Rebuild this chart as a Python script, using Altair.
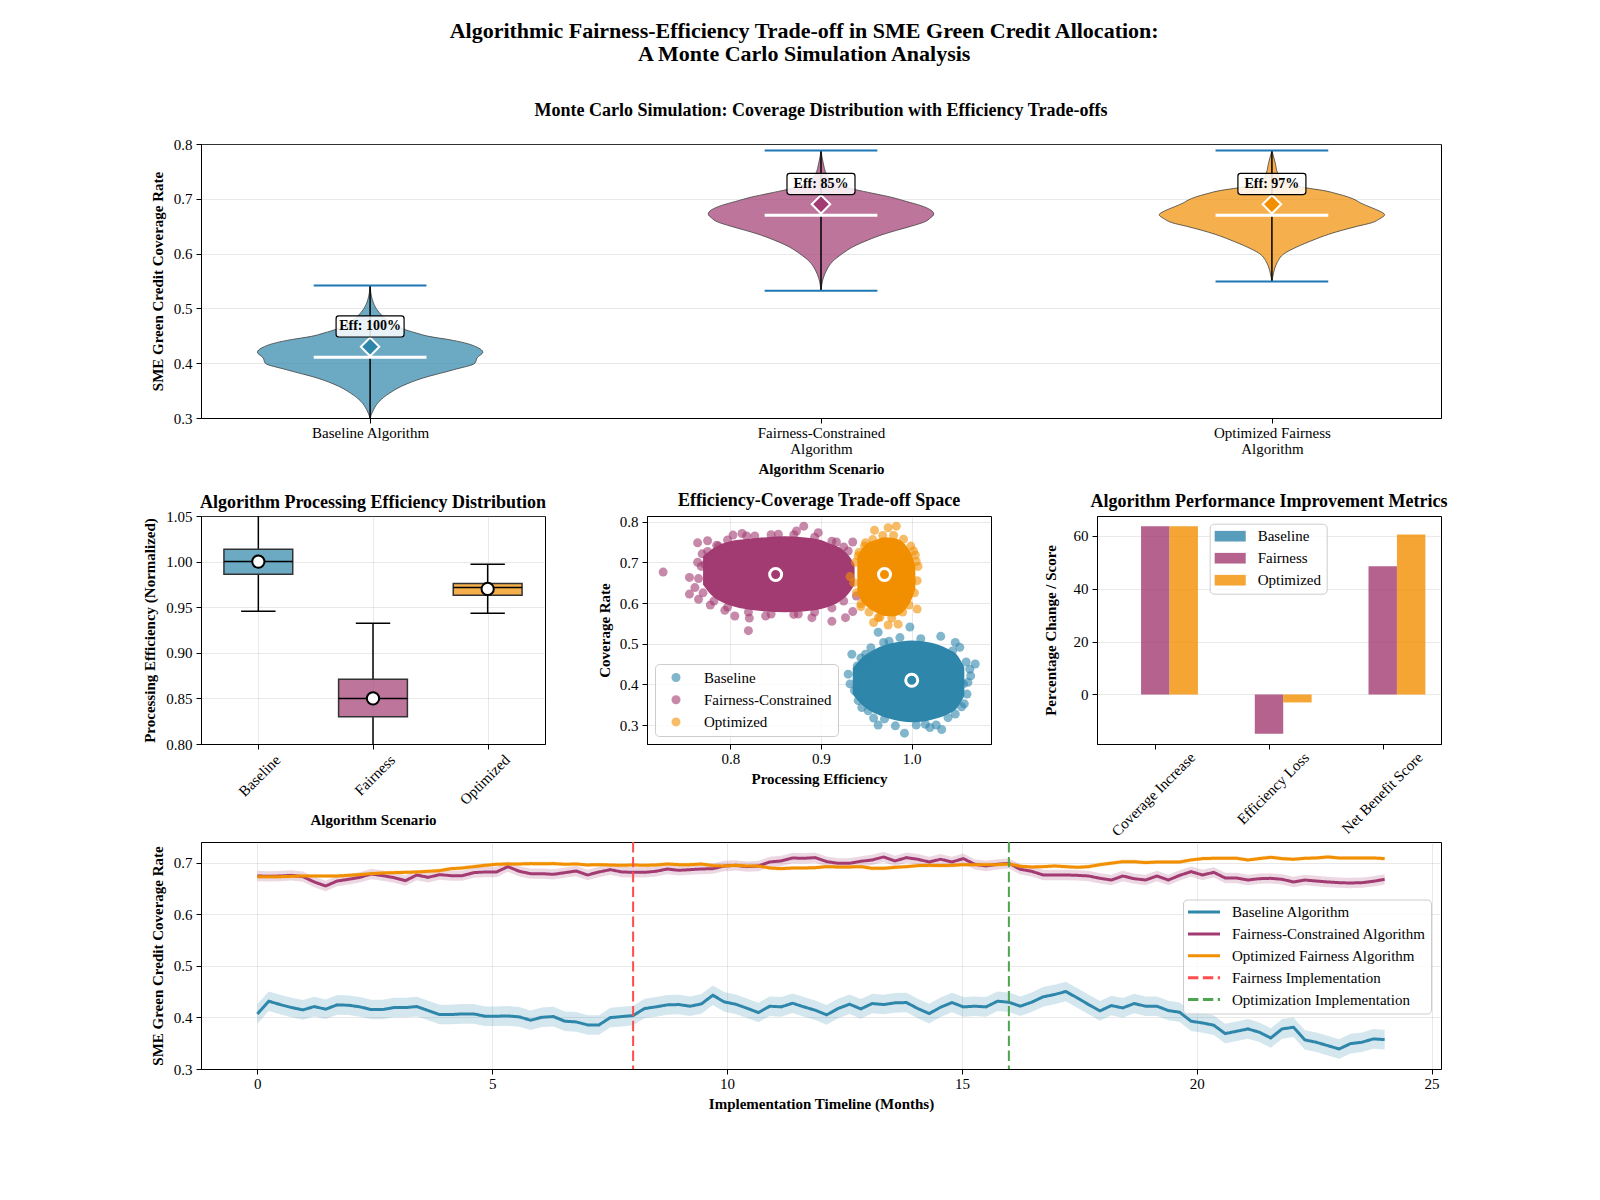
import json
import altair as alt
import pandas as pd

FONT = "Liberation Serif"
BLUE, PURPLE, ORANGE = "#2E86AB", "#A23B72", "#F18F01"
PALETTE = [BLUE, PURPLE, ORANGE]
EXTREMA_BLUE = "#1f77b4"
FAIR_RED = "#ff4d4d"
OPT_GREEN = "#4da64d"
LEGEND_BOX = dict(fillColor="rgba(255,255,255,0.8)", strokeColor="#cccccc", cornerRadius=4, labelLimit=400)

# ====================== Panel 1: violins ======================
scenario_names = ["Baseline Algorithm", "Fairness-Constrained Algorithm", "Optimized Fairness Algorithm"]
scenario_tick_lines = [["Baseline Algorithm"], ["Fairness-Constrained", "Algorithm"], ["Optimized Fairness", "Algorithm"]]
scenario_positions = [1, 2, 3]

baseline_levels = [0.300, 0.315, 0.330, 0.345, 0.358, 0.373, 0.388, 0.400, 0.410, 0.420, 0.428,
                   0.437, 0.443, 0.449, 0.455, 0.462, 0.472, 0.486, 0.498, 0.516, 0.542]
baseline_density = [0.00, 0.03, 0.08, 0.17, 0.28, 0.47, 0.74, 0.93, 0.95, 1.00, 0.96,
                    0.84, 0.70, 0.52, 0.41, 0.30, 0.20, 0.11, 0.06, 0.02, 0.00]
fairness_levels = [0.532, 0.555, 0.570, 0.585, 0.600, 0.612, 0.625, 0.635, 0.643, 0.650, 0.658, 0.665,
                   0.672, 0.680, 0.688, 0.695, 0.703, 0.710, 0.717, 0.725, 0.733, 0.745, 0.765, 0.788]
fairness_density = [0.00, 0.02, 0.05, 0.10, 0.19, 0.28, 0.42, 0.55, 0.68, 0.80, 0.92, 0.97,
                    1.00, 0.97, 0.88, 0.76, 0.62, 0.46, 0.30, 0.17, 0.10, 0.05, 0.02, 0.00]
optimized_levels = [0.549, 0.565, 0.583, 0.600, 0.612, 0.625, 0.635, 0.643, 0.650, 0.656, 0.664, 0.671,
                    0.678, 0.685, 0.692, 0.698, 0.703, 0.709, 0.715, 0.720, 0.727, 0.735, 0.747, 0.765, 0.788]
optimized_density = [0.00, 0.015, 0.045, 0.11, 0.22, 0.37, 0.50, 0.63, 0.76, 0.88, 0.96, 1.00,
                     0.95, 0.87, 0.79, 0.74, 0.68, 0.58, 0.46, 0.30, 0.15, 0.08, 0.05, 0.03, 0.00]

coverage_min = [0.296, 0.532, 0.549]
coverage_max = [0.542, 0.788, 0.788]
coverage_median = [0.411, 0.670, 0.670]
coverage_mean = [0.430, 0.690, 0.690]
efficiency_labels = ["Eff: 100%", "Eff: 85%", "Eff: 97%"]

# ====================== Panel 2: efficiency boxes ======================
box_names = ["Baseline", "Fairness", "Optimized"]
box_positions = [1, 2, 3]
box_q1 = [0.986, 0.830, 0.963]
box_q3 = [1.0135, 0.871, 0.976]
box_median = [1.000, 0.850, 0.9715]
box_whisker_low = [0.9455, 0.768, 0.9435]
box_whisker_high = [1.054, 0.9325, 0.997]
box_mean = [1.000, 0.850, 0.970]

# ====================== Panel 3: trade-off scatter ======================
scatter_groups = ["Baseline", "Fairness-Constrained", "Optimized"]
baseline_pts_eff = [0.963, 0.969, 0.998, 0.987, 1.032, 1.048, 1.053, 1.070, 1.064, 1.065,
                    1.058, 1.048, 1.033, 0.992, 0.963, 1.020, 0.934, 0.930, 0.932, 0.941,
                    0.945, 0.949, 1.057, 1.061, 0.982, 1.015,
                    0.940, 0.937, 0.952, 0.970, 1.005, 1.040, 1.055, 1.062, 1.060, 1.045,
                    1.010, 0.975, 0.955, 0.944, 1.027, 0.958]
baseline_pts_cov = [0.528, 0.503, 0.541, 0.515, 0.518, 0.503, 0.491, 0.450, 0.437, 0.421,
                    0.352, 0.327, 0.289, 0.280, 0.300, 0.294, 0.474, 0.425, 0.401, 0.360,
                    0.343, 0.474, 0.401, 0.376, 0.298, 0.302,
                    0.445, 0.385, 0.335, 0.315, 0.300, 0.318, 0.345, 0.405, 0.455, 0.482,
                    0.512, 0.506, 0.490, 0.465, 0.300, 0.317]
fairness_pts_eff = [0.726, 0.764, 0.775, 0.755, 0.755, 0.761, 0.765, 0.778, 0.794, 0.805,
                    0.820, 0.821, 0.803, 0.813, 0.827, 0.881, 0.873, 0.897, 0.912, 0.927,
                    0.935, 0.917, 0.935, 0.890, 0.764, 0.769, 0.939, 0.853, 0.787, 0.906,
                    0.772, 0.875, 0.839,
                    0.775, 0.785, 0.797, 0.818, 0.845, 0.870, 0.893, 0.912, 0.925, 0.930,
                    0.925, 0.912, 0.893, 0.870, 0.845, 0.820, 0.797, 0.782, 0.770, 0.765, 0.768]
fairness_pts_cov = [0.676, 0.748, 0.753, 0.663, 0.622, 0.638, 0.609, 0.595, 0.582, 0.568,
                    0.532, 0.563, 0.767, 0.771, 0.765, 0.789, 0.777, 0.773, 0.555, 0.564,
                    0.579, 0.750, 0.750, 0.564, 0.700, 0.721, 0.617, 0.769, 0.740, 0.736,
                    0.695, 0.573, 0.568,
                    0.727, 0.742, 0.755, 0.765, 0.768, 0.768, 0.762, 0.752, 0.738, 0.728,
                    0.605, 0.588, 0.578, 0.572, 0.573, 0.578, 0.590, 0.605, 0.625, 0.660, 0.690]
optimized_pts_eff = [0.974, 0.983, 0.959, 1.002, 1.005, 1.006, 0.958, 0.974, 0.985, 0.944,
                     0.932, 0.941, 0.996, 0.949, 0.963, 1.000,
                     0.938, 0.942, 0.948, 0.957, 0.968, 0.980, 0.991, 0.999, 1.004, 1.007,
                     1.006, 1.003, 0.997, 0.990, 0.978, 0.965, 0.953, 0.944, 0.939, 0.936]
optimized_pts_cov = [0.785, 0.789, 0.779, 0.728, 0.702, 0.585, 0.552, 0.546, 0.548, 0.591,
                     0.665, 0.716, 0.630, 0.748, 0.564, 0.654,
                     0.700, 0.725, 0.740, 0.756, 0.766, 0.766, 0.757, 0.740, 0.718, 0.690,
                     0.655, 0.625, 0.595, 0.578, 0.563, 0.565, 0.578, 0.598, 0.625, 0.650]
# dense cores of each cloud: vertical extent of the saturated region at each efficiency
baseline_blob_eff = [0.935, 0.945, 0.960, 0.980, 1.000, 1.020, 1.040, 1.050, 1.058]
baseline_blob_low = [0.375, 0.350, 0.328, 0.313, 0.307, 0.312, 0.327, 0.342, 0.372]
baseline_blob_high = [0.440, 0.465, 0.487, 0.502, 0.508, 0.503, 0.487, 0.472, 0.442]
fairness_blob_eff = [0.770, 0.780, 0.790, 0.800, 0.820, 0.840, 0.860, 0.880, 0.900, 0.910, 0.920, 0.930, 0.937]
fairness_blob_low = [0.645, 0.618, 0.603, 0.594, 0.584, 0.579, 0.577, 0.579, 0.585, 0.592, 0.603, 0.622, 0.645]
fairness_blob_high = [0.715, 0.733, 0.745, 0.752, 0.758, 0.762, 0.764, 0.762, 0.755, 0.746, 0.737, 0.718, 0.695]
optimized_blob_eff = [0.940, 0.945, 0.950, 0.960, 0.970, 0.980, 0.990, 0.995, 1.000, 1.004]
optimized_blob_low = [0.625, 0.603, 0.592, 0.577, 0.568, 0.567, 0.577, 0.590, 0.610, 0.635]
optimized_blob_high = [0.715, 0.733, 0.745, 0.755, 0.762, 0.760, 0.750, 0.737, 0.718, 0.690]
center_eff = [1.00, 0.85, 0.97]
center_cov = [0.41, 0.67, 0.67]

# ====================== Panel 4: improvement metrics ======================
metric_names = ["Coverage Increase", "Efficiency Loss", "Net Benefit Score"]
metric_positions = [0, 1, 2]
bar_groups = ["Baseline", "Fairness", "Optimized"]
baseline_metrics = [0.0, 0.0, 0.0]
fairness_metrics = [63.5, -14.8, 48.4]
optimized_metrics = [63.5, -3.0, 60.4]

# ====================== Panel 5: timeline ======================
months = [round(i * 24 / 99, 4) for i in range(100)]
baseline_ts = [0.4068, 0.4314, 0.4249, 0.4191, 0.4146, 0.4210, 0.4159, 0.4243, 0.4236, 0.4204,
               0.4152, 0.4152, 0.4191, 0.4191, 0.4210, 0.4133, 0.4055, 0.4055, 0.4068, 0.4068,
               0.4023, 0.4023, 0.4029, 0.4010, 0.3945, 0.4003, 0.4016, 0.3926, 0.3913, 0.3854,
               0.3854, 0.3997, 0.4016, 0.4036, 0.4172, 0.4204, 0.4243, 0.4249, 0.4217, 0.4262,
               0.4430, 0.4301, 0.4256, 0.4178, 0.4094, 0.4217, 0.4204, 0.4275, 0.4204, 0.4139,
               0.4049, 0.4172, 0.4256, 0.4165, 0.4269, 0.4249, 0.4282, 0.4288, 0.4172, 0.4074,
               0.4197, 0.4288, 0.4204, 0.4217, 0.4204, 0.4314, 0.4294, 0.4217, 0.4294, 0.4398,
               0.4443, 0.4502, 0.4379, 0.4249, 0.4126, 0.4230, 0.4184, 0.4269, 0.4217, 0.4217,
               0.4133, 0.4100, 0.3926, 0.3893, 0.3848, 0.3686, 0.3731, 0.3777, 0.3712, 0.3602,
               0.3777, 0.3809, 0.3563, 0.3518, 0.3453, 0.3388, 0.3492, 0.3518, 0.3583, 0.3570]
fairness_ts = [0.6741, 0.6735, 0.6740, 0.6754, 0.6728, 0.6625, 0.6547, 0.6644, 0.6676, 0.6715,
               0.6780, 0.6748, 0.6709, 0.6650, 0.6760, 0.6715, 0.6767, 0.6748, 0.6748, 0.6806,
               0.6819, 0.6819, 0.6922, 0.6832, 0.6786, 0.6786, 0.6773, 0.6806, 0.6838, 0.6760,
               0.6819, 0.6864, 0.6819, 0.6812, 0.6812, 0.6832, 0.6877, 0.6851, 0.6864, 0.6877,
               0.6883, 0.6935, 0.6948, 0.6922, 0.6935, 0.7013, 0.7032, 0.7090, 0.7084, 0.7097,
               0.7020, 0.6987, 0.6987, 0.7026, 0.7052, 0.7110, 0.7032, 0.7097, 0.7065, 0.7013,
               0.7065, 0.7013, 0.7078, 0.6968, 0.6935, 0.6968, 0.6987, 0.6871, 0.6832, 0.6761,
               0.6761, 0.6761, 0.6754, 0.6741, 0.6696, 0.6663, 0.6741, 0.6689, 0.6663, 0.6741,
               0.6663, 0.6754, 0.6825, 0.6761, 0.6812, 0.6702, 0.6702, 0.6663, 0.6689, 0.6696,
               0.6676, 0.6625, 0.6663, 0.6644, 0.6625, 0.6612, 0.6605, 0.6612, 0.6638, 0.6676]
optimized_ts = [0.6728, 0.6728, 0.6728, 0.6735, 0.6741, 0.6741, 0.6741, 0.6741, 0.6754, 0.6767,
                0.6786, 0.6799, 0.6806, 0.6812, 0.6819, 0.6832, 0.6845, 0.6883, 0.6896, 0.6922,
                0.6948, 0.6968, 0.6974, 0.6974, 0.6981, 0.6980, 0.6981, 0.6968, 0.6974, 0.6955,
                0.6961, 0.6955, 0.6948, 0.6955, 0.6948, 0.6955, 0.6974, 0.6961, 0.6961, 0.6974,
                0.6942, 0.6935, 0.6948, 0.6935, 0.6935, 0.6896, 0.6883, 0.6896, 0.6896, 0.6903,
                0.6922, 0.6916, 0.6916, 0.6922, 0.6890, 0.6890, 0.6909, 0.6922, 0.6942, 0.6948,
                0.6942, 0.6948, 0.6961, 0.6961, 0.6961, 0.6961, 0.6974, 0.6929, 0.6916, 0.6922,
                0.6935, 0.6922, 0.6909, 0.6922, 0.6961, 0.6990, 0.7019, 0.7019, 0.7000, 0.7013,
                0.7013, 0.7013, 0.7052, 0.7078, 0.7084, 0.7084, 0.7084, 0.7052, 0.7078, 0.7104,
                0.7078, 0.7065, 0.7084, 0.7091, 0.7110, 0.7091, 0.7091, 0.7091, 0.7091, 0.7078]
band_half_width = [0.019, 0.010, 0.004]
line_series = ["Baseline Algorithm", "Fairness-Constrained Algorithm", "Optimized Fairness Algorithm"]
event_series = ["Fairness Implementation", "Optimization Implementation"]
event_months = [8, 16]

# ====================== build tables ======================
vrows = []
for name, pos, levels, dens in zip(scenario_names, scenario_positions,
                                   [baseline_levels, fairness_levels, optimized_levels],
                                   [baseline_density, fairness_density, optimized_density]):
    for c, d in zip(levels, dens):
        vrows.append({"scenario": name, "pos": pos, "cov": c, "dens": d})
violin_df = pd.DataFrame(vrows)
vstats_df = pd.DataFrame({"scenario": scenario_names, "pos": scenario_positions, "vmin": coverage_min,
                          "vmax": coverage_max, "med": coverage_median, "mean": coverage_mean,
                          "label": efficiency_labels})

box_df = pd.DataFrame({"alg": box_names, "pos": box_positions, "q1": box_q1, "q3": box_q3,
                       "med": box_median, "wlo": box_whisker_low, "whi": box_whisker_high,
                       "mean": box_mean})

pts_frames, blob_frames = [], []
for g, pe, pc, be, bl, bh in zip(scatter_groups,
                                 [baseline_pts_eff, fairness_pts_eff, optimized_pts_eff],
                                 [baseline_pts_cov, fairness_pts_cov, optimized_pts_cov],
                                 [baseline_blob_eff, fairness_blob_eff, optimized_blob_eff],
                                 [baseline_blob_low, fairness_blob_low, optimized_blob_low],
                                 [baseline_blob_high, fairness_blob_high, optimized_blob_high]):
    pts_frames.append(pd.DataFrame({"group": g, "eff": pe, "cov": pc}))
    blob_frames.append(pd.DataFrame({"group": g, "eff": be, "lo": bl, "hi": bh}))
center_df = pd.DataFrame({"group": scatter_groups, "eff": center_eff, "cov": center_cov})

bar_rows = []
for gi, (g, vals) in enumerate(zip(bar_groups, [baseline_metrics, fairness_metrics, optimized_metrics])):
    for m, mp, v in zip(metric_names, metric_positions, vals):
        bar_rows.append({"metric": m, "mpos": mp, "group": g, "gidx": gi, "val": v})
bar_df = pd.DataFrame(bar_rows)

ts_rows = []
for s, vals, hw in zip(line_series, [baseline_ts, fairness_ts, optimized_ts], band_half_width):
    for m, v in zip(months, vals):
        ts_rows.append({"month": m, "series": s, "val": v, "lo": v - hw, "hi": v + hw})
ts_df = pd.DataFrame(ts_rows)
event_df = pd.DataFrame({"month": event_months, "series": event_series})

# ====================== Panel 1 chart ======================
VIOLIN_HALF = 0.25
LINE_HALF = 0.125
ROUNDED_BOX = ("M-0.92,-0.31 L0.92,-0.31 Q1,-0.31 1,-0.23 L1,0.23 Q1,0.31 0.92,0.31 "
               "L-0.92,0.31 Q-1,0.31 -1,0.23 L-1,-0.23 Q-1,-0.31 -0.92,-0.31 Z")

v_xscale = alt.Scale(domain=[0.625, 3.375], nice=False, zero=False)
v_yscale = alt.Scale(domain=[0.3, 0.8], nice=False, zero=False)
v_xaxis = alt.Axis(values=scenario_positions, labelExpr=json.dumps(scenario_tick_lines) + "[datum.value - 1]",
                   grid=False, labelLineHeight=16, labelFlush=False, labelOverlap=False, labelPadding=2,
                   title="Algorithm Scenario")
v_yaxis = alt.Axis(values=[0.3, 0.4, 0.5, 0.6, 0.7, 0.8], format=".1f", grid=True, labelFlush=False,
                   title="SME Green Credit Coverage Rate", titlePadding=8)
v_fill = alt.Fill("scenario:N", scale=alt.Scale(domain=scenario_names, range=PALETTE), legend=None)


def vx(f):
    return alt.X(f, scale=v_xscale, axis=v_xaxis, stack=None)


def vy(f):
    return alt.Y(f, scale=v_yscale, axis=v_yaxis, stack=None)


v_body = alt.Chart(violin_df).transform_calculate(
    xlo=f"datum.pos - {VIOLIN_HALF} * datum.dens", xhi=f"datum.pos + {VIOLIN_HALF} * datum.dens"
).mark_area(orient="horizontal", interpolate="monotone", fillOpacity=0.7, stroke="#404040",
            strokeWidth=0.8, clip=True).encode(
    y=vy("cov:Q"), x=vx("xlo:Q"), x2="xhi:Q", fill=v_fill
)
vb = alt.Chart(vstats_df).transform_calculate(
    l=f"datum.pos - {LINE_HALF}", r=f"datum.pos + {LINE_HALF}", ly="datum.mean + 0.037"
)
v_center = vb.mark_rule(color="black", strokeWidth=1.5, clip=True).encode(x=vx("pos:Q"), y=vy("vmin:Q"), y2="vmax:Q")
v_ext = vb.transform_fold(["vmin", "vmax"], as_=["stat", "val"]).mark_rule(
    color=EXTREMA_BLUE, strokeWidth=2, clip=True).encode(x=vx("l:Q"), x2="r:Q", y=vy("val:Q"))
v_med = vb.mark_rule(color="white", strokeWidth=3).encode(x=vx("l:Q"), x2="r:Q", y=vy("med:Q"))
v_mean = vb.mark_point(shape="diamond", filled=True, size=340, stroke="white", strokeWidth=2, opacity=1).encode(
    x=vx("pos:Q"), y=vy("mean:Q"), fill=v_fill)
v_lbox = vb.mark_point(shape=ROUNDED_BOX, size=4624, filled=True, fill="white", fillOpacity=0.85,
                       stroke="black", strokeWidth=1.2, strokeOpacity=1, opacity=1).encode(x=vx("pos:Q"), y=vy("ly:Q"))
v_ltxt = vb.mark_text(font=FONT, fontSize=14, fontWeight="bold", color="black", align="center",
                      baseline="middle").encode(x=vx("pos:Q"), y=vy("ly:Q"), text="label:N")

violin_chart = alt.layer(v_body, v_center, v_ext, v_med, v_mean, v_lbox, v_ltxt).properties(
    width=1240, height=274,
    title=alt.TitleParams("Monte Carlo Simulation: Coverage Distribution with Efficiency Trade-offs",
                          fontSize=18, fontWeight="bold", anchor="middle", frame="group",
                          baseline="bottom", offset=26, dy=26.5),
)

# ====================== Panel 2 chart ======================
BOX_HALF = 0.3
CAP_HALF = 0.15
b_xscale = alt.Scale(domain=[0.5, 3.5], nice=False, zero=False)
b_yscale = alt.Scale(domain=[0.80, 1.05], nice=False, zero=False)
b_xaxis = alt.Axis(values=box_positions, labelExpr=json.dumps(box_names) + "[datum.value - 1]",
                   labelAngle=315, labelAlign="right", labelBaseline="middle", labelOffset=19,
                   labelPadding=8, grid=True, labelFlush=False, labelOverlap=False, title="Algorithm Scenario")
b_yaxis = alt.Axis(values=[0.80, 0.85, 0.90, 0.95, 1.00, 1.05], format=".2f", grid=True, labelFlush=False,
                   title="Processing Efficiency (Normalized)", titlePadding=8)
b_fill = alt.Fill("alg:N", scale=alt.Scale(domain=box_names, range=PALETTE), legend=None)


def bx(f):
    return alt.X(f, scale=b_xscale, axis=b_xaxis)


def by(f):
    return alt.Y(f, scale=b_yscale, axis=b_yaxis)


bb = alt.Chart(box_df).transform_calculate(
    bl=f"datum.pos - {BOX_HALF}", br=f"datum.pos + {BOX_HALF}",
    cl=f"datum.pos - {CAP_HALF}", cr=f"datum.pos + {CAP_HALF}")
b_wlo = bb.mark_rule(color="black", strokeWidth=1.5, clip=True).encode(x=bx("pos:Q"), y=by("wlo:Q"), y2="q1:Q")
b_whi = bb.mark_rule(color="black", strokeWidth=1.5, clip=True).encode(x=bx("pos:Q"), y=by("q3:Q"), y2="whi:Q")
b_clo = bb.mark_rule(color="black", strokeWidth=1.5, clip=True).encode(x=bx("cl:Q"), x2="cr:Q", y=by("wlo:Q"))
b_chi = bb.mark_rule(color="black", strokeWidth=1.5, clip=True).encode(x=bx("cl:Q"), x2="cr:Q", y=by("whi:Q"))
b_box = bb.mark_rect(fillOpacity=0.7, stroke="#333333", strokeWidth=1.5, clip=True).encode(
    x=bx("bl:Q"), x2="br:Q", y=by("q1:Q"), y2="q3:Q", fill=b_fill)
b_med = bb.mark_rule(color="black", strokeWidth=1.5).encode(x=bx("bl:Q"), x2="br:Q", y=by("med:Q"))
b_mean = bb.mark_point(shape="circle", filled=True, fill="white", stroke="black", strokeWidth=2,
                       size=150, opacity=1).encode(x=bx("pos:Q"), y=by("mean:Q"))

box_chart = alt.layer(b_wlo, b_whi, b_clo, b_chi, b_box, b_med, b_mean).properties(
    width=344, height=228,
    title=alt.TitleParams("Algorithm Processing Efficiency Distribution", fontSize=18, fontWeight="bold",
                          anchor="middle", frame="group", baseline="bottom", offset=6, dy=26.5),
)

# ====================== Panel 3 chart ======================
s_xscale = alt.Scale(domain=[0.7082, 1.0874], nice=False, zero=False)
s_yscale = alt.Scale(domain=[0.2533, 0.814], nice=False, zero=False)
s_xaxis = alt.Axis(values=[0.8, 0.9, 1.0], format=".1f", grid=True, labelFlush=False, labelPadding=2,
                   title="Processing Efficiency")
s_yaxis = alt.Axis(values=[0.3, 0.4, 0.5, 0.6, 0.7, 0.8], format=".1f", grid=True, labelFlush=False,
                   title="Coverage Rate", titlePadding=6.5)
s_legend = alt.Legend(title=None, orient="bottom-left", offset=8, padding=6, symbolType="circle",
                      symbolSize=81, symbolOpacity=0.6, symbolStrokeWidth=0, symbolOffset=7.5,
                      labelOffset=20.5, rowPadding=6.2, labelFontSize=15, **LEGEND_BOX)
s_color = alt.Color("group:N", scale=alt.Scale(domain=scatter_groups, range=PALETTE), legend=s_legend)


def sx(f):
    return alt.X(f, scale=s_xscale, axis=s_xaxis)


def sy(f):
    return alt.Y(f, scale=s_yscale, axis=s_yaxis, stack=None)


s_layers = []
for pf, bf in zip(pts_frames, blob_frames):
    s_layers.append(alt.Chart(bf).mark_area(orient="vertical", interpolate="monotone", opacity=1).encode(
        x=sx("eff:Q"), y=sy("lo:Q"), y2="hi:Q", color=s_color))
    s_layers.append(alt.Chart(pf).mark_point(shape="circle", filled=True, size=81, opacity=0.6,
                                             strokeWidth=0).encode(x=sx("eff:Q"), y=sy("cov:Q"), color=s_color))
s_layers.append(alt.Chart(center_df).mark_point(shape="circle", filled=True, size=144, stroke="white",
                                                strokeWidth=3, opacity=1).encode(
    x=sx("eff:Q"), y=sy("cov:Q"), color=s_color))

scatter_chart = alt.layer(*s_layers).properties(
    width=344, height=228,
    title=alt.TitleParams("Efficiency-Coverage Trade-off Space", fontSize=18, fontWeight="bold",
                          anchor="middle", frame="group", baseline="bottom", offset=6, dy=19.5),
)

# ====================== Panel 4 chart ======================
BAR_W = 0.25
RECT_SYMBOL = "M-2.07,-0.71 L2.07,-0.71 L2.07,0.71 L-2.07,0.71 Z"
bar_legend = alt.Legend(title=None, orient="none", legendX=112.7, legendY=7.7, padding=5,
                        symbolType=RECT_SYMBOL, symbolSize=225, symbolOpacity=0.8, symbolStrokeWidth=0,
                        symbolOffset=8, labelOffset=20, rowPadding=6, labelFontSize=15, **LEGEND_BOX)
bar_chart = alt.Chart(bar_df).transform_calculate(
    xl=f"datum.mpos + (datum.gidx - 1) * {BAR_W} - {BAR_W / 2}",
    xr=f"datum.mpos + (datum.gidx - 1) * {BAR_W} + {BAR_W / 2}",
    zero="0",
).mark_rect(opacity=0.8).encode(
    x=alt.X("xl:Q", scale=alt.Scale(domain=[-0.5125, 2.5125], nice=False, zero=False),
            axis=alt.Axis(values=metric_positions, labelExpr=json.dumps(metric_names) + "[datum.value]",
                          labelAngle=315, labelAlign="right", labelBaseline="middle", labelOffset=37,
                          labelPadding=5.5, grid=False, labelFlush=False, labelOverlap=False, title=None)),
    x2="xr:Q",
    y=alt.Y("val:Q", scale=alt.Scale(domain=[-18.7, 67.4], nice=False, zero=False),
            axis=alt.Axis(values=[0, 20, 40, 60], format="d", grid=True, labelFlush=False,
                          title="Percentage Change / Score", titlePadding=14.6)),
    y2="zero:Q",
    color=alt.Color("group:N", scale=alt.Scale(domain=bar_groups, range=PALETTE), legend=bar_legend),
).properties(
    width=344, height=228,
    title=alt.TitleParams("Algorithm Performance Improvement Metrics", fontSize=18, fontWeight="bold",
                          anchor="middle", frame="group", baseline="bottom", offset=6, dy=18.5),
)

# ====================== Panel 5 chart ======================
LINE_SYMBOL = "M-2.67,0 L2.67,0"
all_series = line_series + event_series
t_xscale = alt.Scale(domain=[-1.2, 25.2], nice=False, zero=False)
t_yscale = alt.Scale(domain=[0.3, 0.74], nice=False, zero=False)
t_xaxis = alt.Axis(values=[0, 5, 10, 15, 20, 25], format="d", grid=True, labelFlush=False, labelPadding=2,
                   title="Implementation Timeline (Months)")
t_yaxis = alt.Axis(values=[0.3, 0.4, 0.5, 0.6, 0.7], format=".1f", grid=True, labelFlush=False,
                   title="SME Green Credit Coverage Rate", titlePadding=8)
t_legend = alt.Legend(title=None, orient="none", legendX=982, legendY=57.5, padding=5,
                      symbolType=LINE_SYMBOL, symbolSize=144, symbolStrokeWidth=3, symbolOffset=8.5,
                      labelOffset=20.5, rowPadding=5.9, labelFontSize=15, **LEGEND_BOX)
t_color = alt.Color("series:N", scale=alt.Scale(domain=all_series, range=PALETTE + [FAIR_RED, OPT_GREEN]),
                    legend=t_legend)
t_dash = alt.StrokeDash("series:N", scale=alt.Scale(domain=all_series,
                                                    range=[[1, 0], [1, 0], [1, 0], [10.4, 4.5], [10.4, 4.5]]),
                        legend=t_legend)


def tx(f):
    return alt.X(f, scale=t_xscale, axis=t_xaxis)


def ty(f):
    return alt.Y(f, scale=t_yscale, axis=t_yaxis, stack=None)


t_band = alt.Chart(ts_df).mark_area(opacity=0.2, clip=True).encode(
    x=tx("month:Q"), y=ty("lo:Q"), y2="hi:Q",
    fill=alt.Fill("series:N", scale=alt.Scale(domain=line_series, range=PALETTE), legend=None))
t_lines = alt.Chart(ts_df).mark_line(strokeWidth=3, clip=True).encode(
    x=tx("month:Q"), y=ty("val:Q"), color=t_color, strokeDash=t_dash)
t_rules = alt.Chart(event_df).mark_rule(strokeWidth=2).encode(x=tx("month:Q"), color=t_color, strokeDash=t_dash)

time_chart = alt.layer(t_band, t_lines, t_rules).properties(width=1240, height=227)

# ====================== assemble ======================
middle = alt.hconcat(box_chart, scatter_chart, bar_chart, spacing=50).resolve_scale(
    color="independent", fill="independent")
lower = alt.vconcat(middle, time_chart, spacing=0).resolve_scale(
    color="independent", fill="independent", strokeDash="independent")
chart = alt.vconcat(violin_chart, lower, spacing=14).resolve_scale(
    color="independent", fill="independent", strokeDash="independent"
).properties(
    title=alt.TitleParams(["Algorithmic Fairness-Efficiency Trade-off in SME Green Credit Allocation:",
                           "A Monte Carlo Simulation Analysis"],
                          fontSize=22, fontWeight="bold", anchor="middle", baseline="bottom",
                          lineHeight=23, offset=35, dx=9, dy=22),
    padding={"left": 134, "top": 12, "right": 10, "bottom": 10},
).configure(font=FONT).configure_axis(
    labelFont=FONT, titleFont=FONT, labelFontSize=15, titleFontSize=15, titleFontWeight="bold",
    labelColor="black", titleColor="black", domainColor="black", tickColor="black", tickSize=5,
    labelPadding=4, titlePadding=5, gridColor="#b0b0b0", gridOpacity=0.35, gridWidth=0.8,
    domainWidth=1, tickWidth=1,
).configure_view(stroke="black", strokeWidth=1).configure_title(
    font=FONT, color="black"
).configure_legend(labelFont=FONT, labelColor="black")

chart.save("out.html", embed_options={"renderer": "svg", "actions": False})
